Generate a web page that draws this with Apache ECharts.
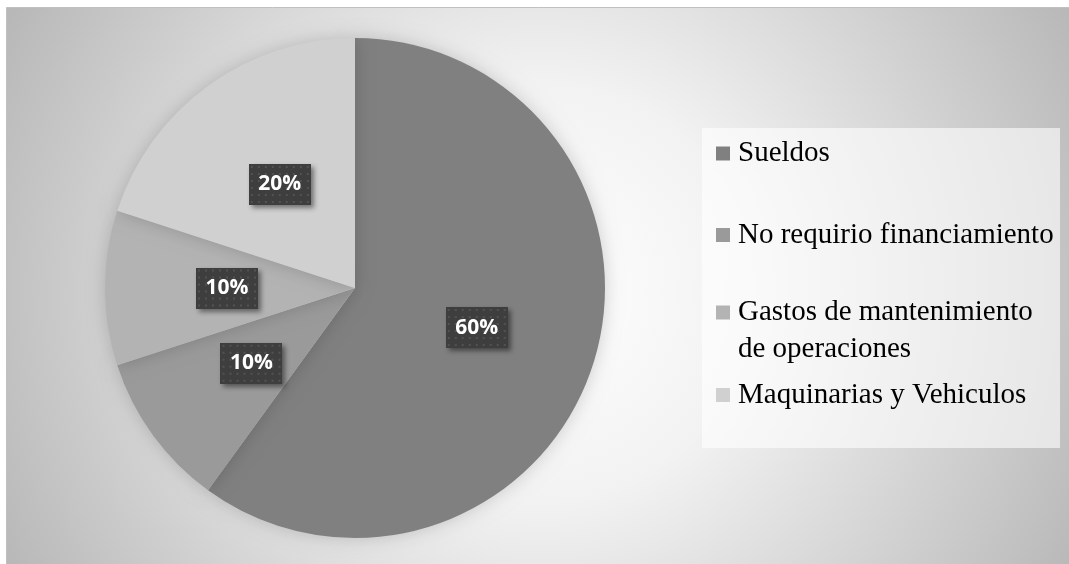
<!DOCTYPE html>
<html>
<head>
<meta charset="utf-8">
<script src="https://cdn.jsdelivr.net/npm/echarts@6/dist/echarts.min.js"></script>
<style>
  html, body { margin: 0; padding: 0; background: #ffffff; }
  #chart { width: 1069px; height: 564px; }
</style>
</head>
<body>
<div id="chart"></div>
<script>
// Funding destinations (share of responses, %)
const categories = ['Sueldos', 'No requirio financiamiento', 'Gastos de mantenimiento de operaciones', 'Maquinarias y Vehiculos'];
const values = [60, 10, 10, 20];
const sliceColors = ['#808080', '#9a9a9a', '#b3b3b3', '#d0d0d0'];
// Legend text; the wrapped entry gets an empty leading line so its
// marker (vertically centred on the block) sits beside the first text line
const legendLabels = ['Sueldos', 'No requirio financiamiento', ' \nGastos de mantenimiento\nde operaciones', 'Maquinarias y Vehiculos'];

// Dark dotted tile used behind the percentage labels
function makeDotTile(w, h) {
  const c = document.createElement('canvas');
  c.width = w; c.height = h;
  const g = c.getContext('2d');
  g.fillStyle = '#3e3e3e';
  g.fillRect(0, 0, w, h);
  g.fillStyle = '#525252';
  for (let y = 2; y < h; y += 7) {
    for (let x = 2; x < w; x += 7) {
      g.fillRect(x, y, 2, 2);
    }
  }
  return c;
}
const dotTile = makeDotTile(62, 41);

const chart = echarts.init(document.getElementById('chart'), null, { renderer: 'canvas' });

const LINE_H = 37;
const legendTops = [135, 216.5, 257, 376.5];
const legends = categories.map((name, i) => ({
  show: true,
  orient: 'vertical',
  left: 716,
  top: legendTops[i],
  padding: 0,
  data: [name],
  icon: 'rect',
  itemWidth: 14,
  itemHeight: 14,
  selectedMode: false,
  formatter: () => legendLabels[i],
  textStyle: {
    fontFamily: '"Liberation Serif", "Times New Roman", serif',
    fontSize: 29,
    color: '#000000',
    lineHeight: LINE_H,
    padding: [0, 0, 0, 3]
  }
}));

chart.setOption({
  animation: false,
  graphic: [
    {
      type: 'rect',
      z: 0,
      shape: { x: 6.5, y: 7.5, width: 1070, height: 570 },
      style: {
        fill: {
          type: 'radial', x: 0.5, y: 0.5, r: 1.05,
          colorStops: [
            { offset: 0, color: '#ffffff' },
            { offset: 0.35, color: '#f2f2f2' },
            { offset: 1, color: '#b8b8b8' }
          ]
        },
        stroke: '#c0c0c0',
        lineWidth: 1
      }
    },
    {
      type: 'rect',
      z: 1,
      shape: { x: 702, y: 128, width: 358, height: 320 },
      style: { fill: 'rgba(255,255,255,0.6)' }
    }
  ],
  legend: legends,
  series: [
    {
      type: 'pie',
      center: [355, 288],
      radius: [0, 250],
      startAngle: 90,
      clockwise: true,
      z: 3,
      itemStyle: {
        shadowBlur: 18,
        shadowColor: 'rgba(0,0,0,0.18)'
      },
      label: {
        show: true,
        position: 'inside',
        formatter: '{d}%',
        fontFamily: '"Open Sans", "Liberation Sans", sans-serif',
        fontWeight: 'bold',
        fontSize: 21,
        color: '#ffffff',
        backgroundColor: { image: dotTile },
        width: 44,
        align: 'center',
        padding: [10, 9, 10, 9],
        shadowBlur: 5,
        shadowOffsetX: 3,
        shadowOffsetY: 3,
        shadowColor: 'rgba(0,0,0,0.45)'
      },
      labelLine: { show: false },
      emphasis: { disabled: true },
      data: categories.map((name, i) => ({
        name: name,
        value: values[i],
        itemStyle: { color: sliceColors[i] }
      }))
    }
  ]
});
</script>
</body>
</html>
